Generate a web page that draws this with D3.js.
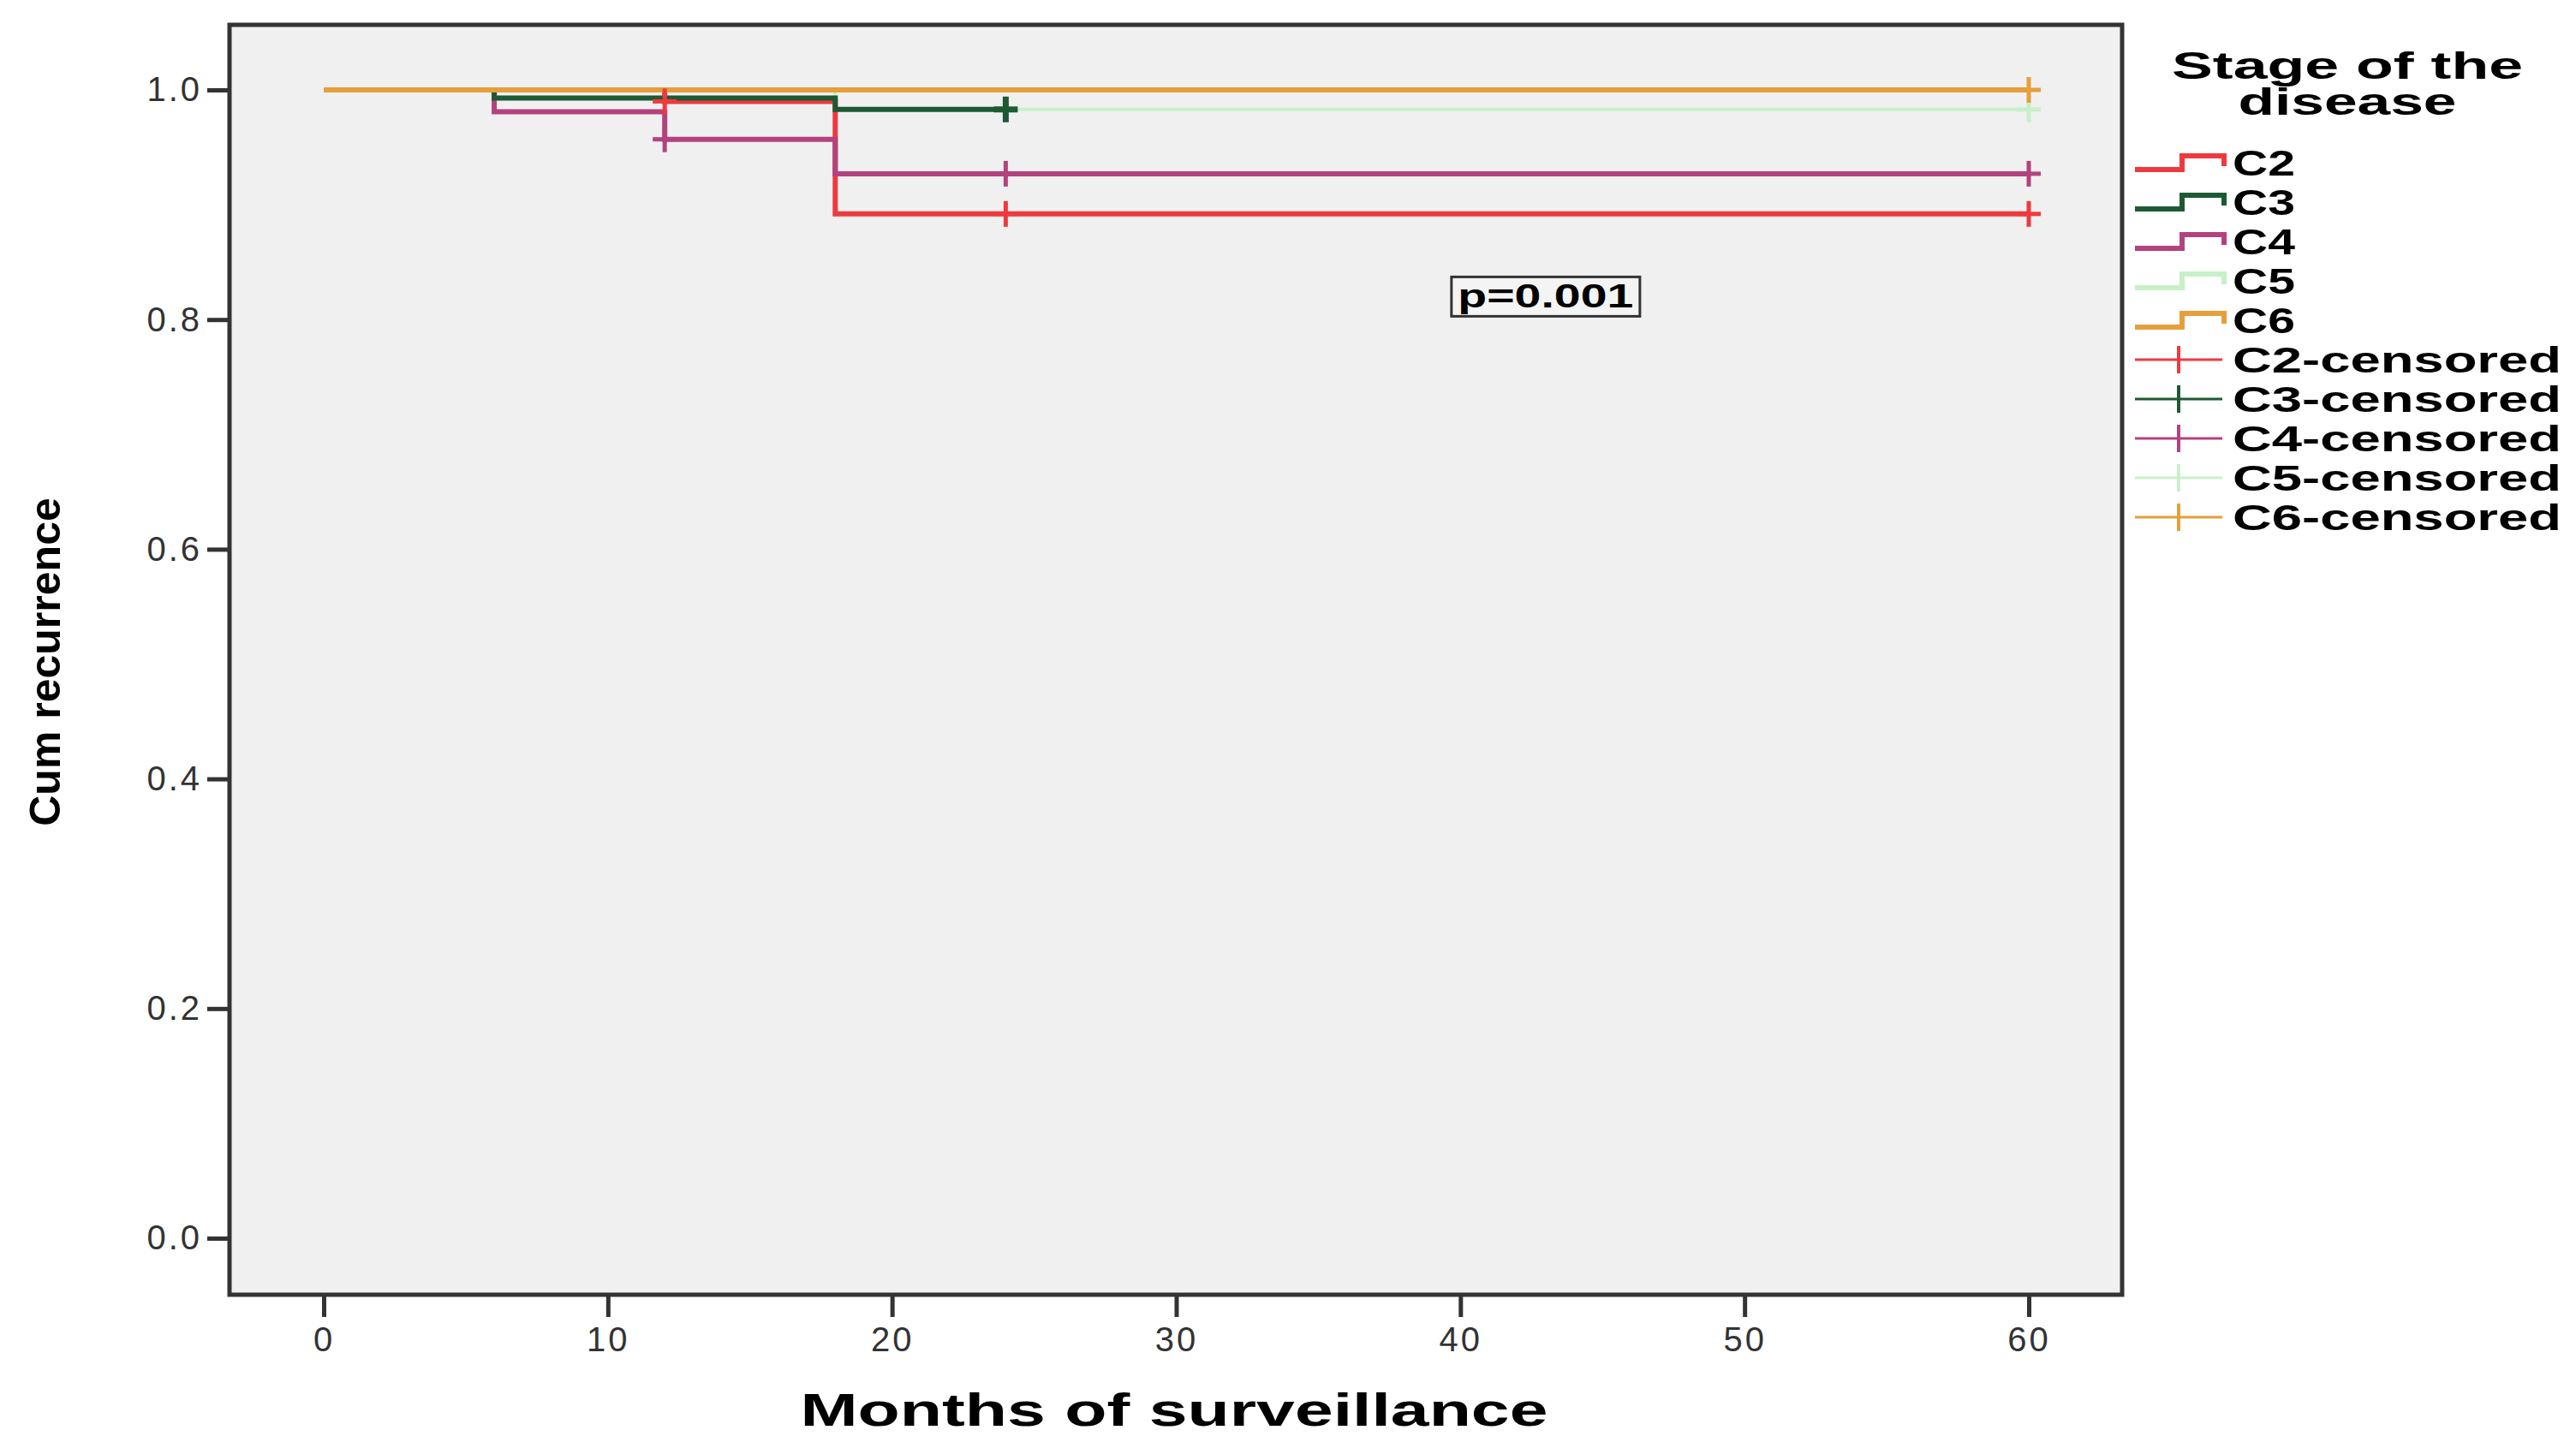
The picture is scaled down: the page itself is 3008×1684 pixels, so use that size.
<!DOCTYPE html>
<html>
<head>
<meta charset="utf-8">
<script src="https://cdn.jsdelivr.net/npm/d3@7"></script>
<style>
body { margin:0; background:#fff; }
text { font-family: "Liberation Sans", Arial, sans-serif; }
</style>
</head>
<body>
<svg id="chart" width="3008" height="1684"></svg>
<script>
// series names and colours
var stages = ["C2", "C3", "C4", "C5", "C6"];
var colors = ["#ee3a3e", "#1d5a33", "#b3427f", "#c8f0c8", "#e69f3a"];

// step points [month, cum] per stage
var c2Steps = [[0, 1], [12, 0.99], [18, 0.892], [60, 0.892]];
var c3Steps = [[0, 1], [6, 0.993], [18, 0.983], [24, 0.983]];
var c4Steps = [[0, 1], [6, 0.981], [12, 0.957], [18, 0.927], [60, 0.927]];
var c5Steps = [[0, 1], [18, 0.983], [60, 0.983]];
var c6Steps = [[0, 1], [60, 1]];

// censored marks [month, cum]
var c2Cens = [[12, 0.99], [24, 0.892], [60, 0.892]];
var c3Cens = [[24, 0.983]];
var c4Cens = [[12, 0.957], [24, 0.927], [60, 0.927]];
var c5Cens = [[60, 0.983]];
var c6Cens = [[60, 1]];

var xTicks = [0, 10, 20, 30, 40, 50, 60];
var yTicks = [0.0, 0.2, 0.4, 0.6, 0.8, 1.0];

var steps = [c2Steps, c3Steps, c4Steps, c5Steps, c6Steps];
var cens = [c2Cens, c3Cens, c4Cens, c5Cens, c6Cens];
// draw order so orange sits on top, pale green under dark green
var order = [3, 0, 2, 1, 4];

var svg = d3.select("#chart");
var frame = {left: 268, right: 2478, top: 29, bottom: 1512};

var x = d3.scaleLinear().domain([0, 60]).range([378, 2369]);
var y = d3.scaleLinear().domain([0, 1]).range([1446, 105]);

svg.append("rect")
	.attr("x", frame.left).attr("y", frame.top)
	.attr("width", frame.right - frame.left).attr("height", frame.bottom - frame.top)
	.attr("fill", "#f0f0f0").attr("stroke", "#333").attr("stroke-width", 5);

// axes
var yAxis = d3.axisLeft(y).tickValues(yTicks).tickFormat(d3.format(".1f")).tickSize(26).tickPadding(6);
var gy = svg.append("g").attr("transform", "translate(" + frame.left + ",0)").call(yAxis);
var xAxis = d3.axisBottom(x).tickValues(xTicks).tickSize(26).tickPadding(12);
var gx = svg.append("g").attr("transform", "translate(0," + frame.bottom + ")").call(xAxis);
[gx, gy].forEach(function(g) {
	g.select(".domain").remove();
	g.selectAll("line").attr("stroke", "#333").attr("stroke-width", 5);
	g.selectAll("text").attr("fill", "#333").style("font-size", "40px").attr("letter-spacing", 3);
});

var line = d3.line()
	.x(function(d) { return x(d[0]); })
	.y(function(d) { return y(d[1]); })
	.curve(d3.curveStepAfter);

order.forEach(function(i) {
	svg.append("path")
		.attr("d", line(steps[i]))
		.attr("fill", "none")
		.attr("stroke", colors[i])
		.attr("stroke-width", i == 3 ? 4 : 6);
});
order.forEach(function(i) {
	var g = svg.append("g");
	cens[i].forEach(function(d) {
		var cx = x(d[0]), cy = y(d[1]);
		g.append("line").attr("x1", cx).attr("x2", cx).attr("y1", cy - 15).attr("y2", cy + 15)
			.attr("stroke", colors[i]).attr("stroke-width", i == 1 ? 7 : 5);
		g.append("line").attr("x1", cx - 14).attr("x2", cx + 14).attr("y1", cy).attr("y2", cy)
			.attr("stroke", colors[i]).attr("stroke-width", i == 1 ? 7 : 5);
	});
});

// p-value box
var px = x(43.0), py = y(0.82);
svg.append("rect").attr("x", px - 110).attr("y", py - 23).attr("width", 220).attr("height", 46)
	.attr("fill", "#f4f4f4").attr("stroke", "#333").attr("stroke-width", 3);
svg.append("text").attr("x", px).attr("y", py + 13).attr("text-anchor", "middle")
	.attr("textLength", 205).attr("lengthAdjust", "spacingAndGlyphs")
	.style("font-size", "38px").style("font-weight", "bold").text("p=0.001");

// axis titles
svg.append("text").attr("x", 1371).attr("y", 1665).attr("text-anchor", "middle")
	.attr("textLength", 873).attr("lengthAdjust", "spacingAndGlyphs")
	.style("font-size", "54px").style("font-weight", "bold")
	.text("Months of surveillance");
svg.append("text").attr("transform", "translate(70,773) rotate(-90)").attr("text-anchor", "middle")
	.style("font-size", "50px").style("font-weight", "bold").style("font-family", "'Liberation Sans Narrow', 'Liberation Sans', sans-serif")
	.text("Cum recurrence");

// legend
var lg = svg.append("g");
lg.append("text").attr("x", 2741).attr("y", 92).attr("text-anchor", "middle")
	.attr("textLength", 410).attr("lengthAdjust", "spacingAndGlyphs")
	.style("font-size", "44px").style("font-weight", "bold").text("Stage of the");
lg.append("text").attr("x", 2741).attr("y", 134).attr("text-anchor", "middle")
	.attr("textLength", 255).attr("lengthAdjust", "spacingAndGlyphs")
	.style("font-size", "44px").style("font-weight", "bold").text("disease");

var labels = stages.concat(stages.map(function(s) { return s + "-censored"; }));
labels.forEach(function(lab, k) {
	var i = k % 5, ly = 190 + k * 46;
	var col = colors[i];
	if (k < 5) {
		lg.append("path")
			.attr("d", "M2493," + (ly + 8) + "H2548V" + (ly - 8) + "H2597V" + (ly + 4))
			.attr("fill", "none").attr("stroke", col).attr("stroke-width", 6);
	} else {
		lg.append("line").attr("x1", 2493).attr("x2", 2595).attr("y1", ly).attr("y2", ly)
			.attr("stroke", col).attr("stroke-width", 3);
		lg.append("line").attr("x1", 2544).attr("x2", 2544).attr("y1", ly - 16).attr("y2", ly + 16)
			.attr("stroke", col).attr("stroke-width", 4);
	}
	lg.append("text").attr("x", 2607).attr("y", ly + 15)
		.attr("textLength", k < 5 ? 73 : 384).attr("lengthAdjust", "spacingAndGlyphs")
		.style("font-size", "42px").style("font-weight", "bold").text(lab);
});
</script>
</body>
</html>
